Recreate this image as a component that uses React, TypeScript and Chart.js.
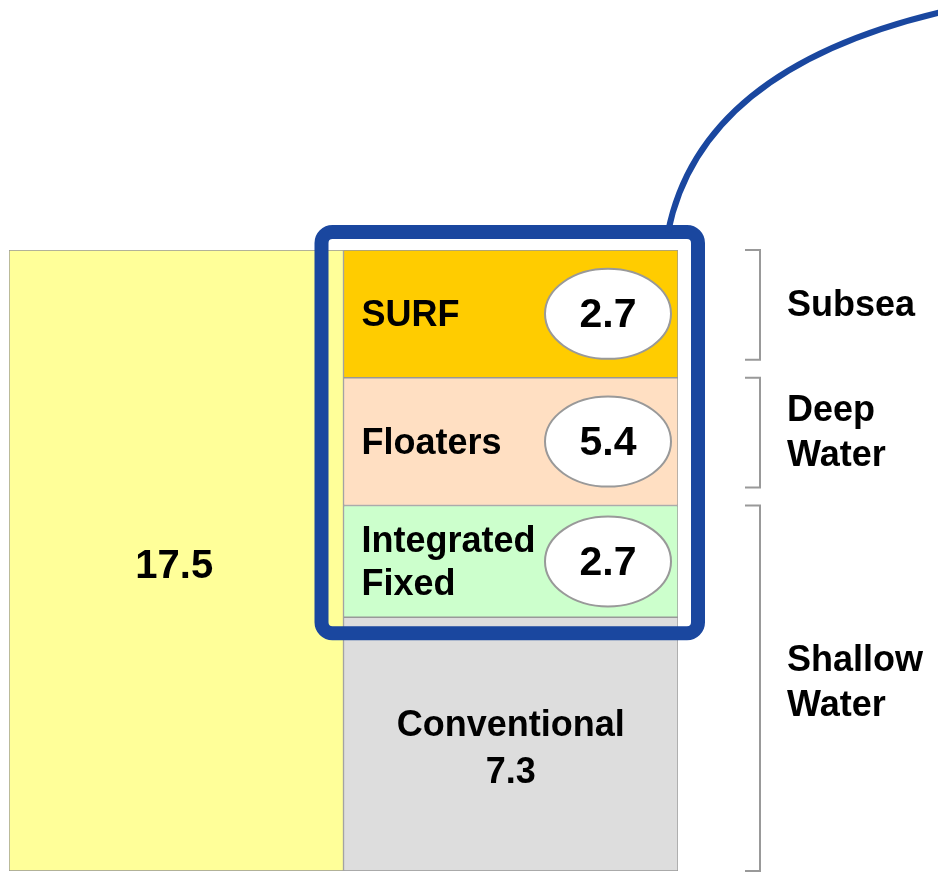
import React, { useEffect, useRef } from "react";
import { Chart, registerables } from "chart.js";

Chart.register(...registerables);

const categories = ["Total", "Breakdown"];
const totalValue = 17.5;
const totalLabel = "17.5";
const segmentNames = ["Conventional", "Integrated Fixed", "Floaters", "SURF"];
const segmentLabelLines = [["Conventional"], ["Integrated", "Fixed"], ["Floaters"], ["SURF"]];
const segmentHeights = [7.15, 3.15, 3.6, 3.6];
const segmentValueLabels = ["7.3", "2.7", "5.4", "2.7"];
const segmentColors = ["#DDDDDD", "#CCFFCC", "#FFDFC2", "#FFCC00"];
const groupNames = [["Subsea"], ["Deep", "Water"], ["Shallow", "Water"]];
const groupSpans = [[3, 3], [2, 2], [0, 1]];

const FONT = '"Liberation Sans", Arial, sans-serif';
const BLUE = "#1a479f";

const annotPlugin = {
  id: "annot",
  afterDraw(chart: any) {
    const ctx = chart.ctx as CanvasRenderingContext2D;
    ctx.save();
    // total bar label
    const tEl = chart.getDatasetMeta(0).data[0];
    ctx.fillStyle = "#000";
    ctx.textAlign = "center";
    ctx.textBaseline = "middle";
    ctx.font = `bold 40px ${FONT}`;
    ctx.fillText(totalLabel, tEl.x - 2, (tEl.y + tEl.base) / 2 + 6);

    const segs = segmentNames.map((_, i) => chart.getDatasetMeta(i + 1).data[1]);
    const left = segs[0].x - segs[0].width / 2;
    const right = segs[0].x + segs[0].width / 2;

    segs.forEach((el: any, i: number) => {
      const cy = (el.y + el.base) / 2;
      if (i === 0) {
        ctx.textAlign = "center";
        ctx.font = `bold 36px ${FONT}`;
        ctx.fillText(segmentLabelLines[i][0], el.x, cy - 18);
        ctx.fillText(segmentValueLabels[i], el.x, cy + 29);
        return;
      }
      ctx.textAlign = "left";
      ctx.font = `bold 36px ${FONT}`;
      const lines = segmentLabelLines[i];
      lines.forEach((ln, k) => {
        ctx.fillText(ln, left + 18, cy + (k - (lines.length - 1) / 2) * 43 + 2);
      });
      // ellipse
      const ex = right - 70;
      ctx.beginPath();
      ctx.ellipse(ex, cy, 63, 45, 0, 0, Math.PI * 2);
      ctx.fillStyle = "#fff";
      ctx.fill();
      ctx.lineWidth = 2;
      ctx.strokeStyle = "#999";
      ctx.stroke();
      ctx.fillStyle = "#000";
      ctx.textAlign = "center";
      ctx.font = `bold 41px ${FONT}`;
      ctx.fillText(segmentValueLabels[i], ex, cy + 2);
    });

    // blue box around the upper three segments
    const bx0 = left - 22;
    const bx1 = right + 20;
    const by0 = segs[3].y - 18;
    const by1 = segs[1].base + 16;
    ctx.beginPath();
    ctx.roundRect(bx0, by0, bx1 - bx0, by1 - by0, 11);
    ctx.lineWidth = 14;
    ctx.strokeStyle = BLUE;
    ctx.stroke();

    // blue curve
    ctx.beginPath();
    ctx.moveTo(668, by0);
    ctx.quadraticCurveTo(701, 66, 950, 10);
    ctx.lineWidth = 6;
    ctx.stroke();

    // brackets and group labels
    const bracketX = right + 82;
    groupSpans.forEach((span, g) => {
      const top = segs[span[1]].y;
      const isLast = span[0] === 0;
      const bottom = isLast ? segs[0].base : segs[span[0]].base - 18;
      ctx.beginPath();
      ctx.moveTo(bracketX - 15, top);
      ctx.lineTo(bracketX, top);
      ctx.lineTo(bracketX, bottom);
      ctx.lineTo(bracketX - 15, bottom);
      ctx.lineWidth = 2;
      ctx.strokeStyle = "#999";
      ctx.stroke();
      const cy = isLast ? (top + bottom) / 2 - 5 : (top + bottom) / 2 + 1;
      ctx.fillStyle = "#000";
      ctx.textAlign = "left";
      ctx.font = `bold 36px ${FONT}`;
      const names = groupNames[g];
      names.forEach((ln, k) => {
        ctx.fillText(ln, right + 109, cy + (k - (names.length - 1) / 2) * 45);
      });
    });
    ctx.restore();
  },
};

export default function App() {
  const ref = useRef<HTMLCanvasElement>(null);
  useEffect(() => {
    if (!ref.current) return;
    const datasets: any[] = [
      {
        label: "Total",
        data: [totalValue, null],
        backgroundColor: "#FFFF99",
      },
      ...segmentNames.map((name, i) => ({
        label: name,
        data: [null, segmentHeights[i]],
        backgroundColor: segmentColors[i],
      })),
    ].map((d) => ({
      ...d,
      borderColor: "#999",
      borderWidth: 1,
      borderSkipped: false,
      categoryPercentage: 1,
      barPercentage: 1,
    }));
    const chart = new Chart(ref.current, {
      type: "bar",
      data: { labels: categories, datasets },
      options: {
        animation: false,
        responsive: true,
        maintainAspectRatio: false,
        layout: { padding: { left: 9, right: 260, top: 250, bottom: 2 } },
        scales: {
          x: { display: false, stacked: true },
          y: { display: false, stacked: true, min: 0, max: totalValue },
        },
        plugins: { legend: { display: false }, tooltip: { enabled: false } },
      },
      plugins: [annotPlugin],
    });
    return () => chart.destroy();
  }, []);
  return (
    <div style={{ position: "absolute", left: 0, top: 0, width: 938, height: 873, background: "#fff" }}>
      <canvas ref={ref} />
    </div>
  );
}
